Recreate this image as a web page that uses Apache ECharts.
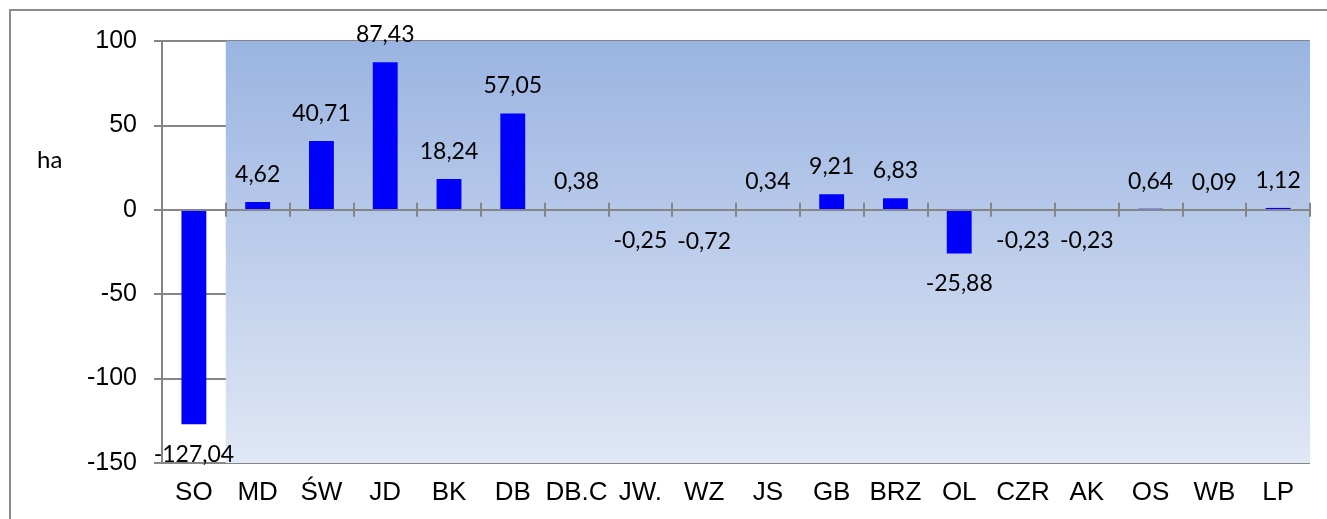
<!DOCTYPE html>
<html>
<head>
<meta charset="utf-8">
<script src="https://cdn.jsdelivr.net/npm/echarts@6/dist/echarts.min.js"></script>
<style>
  html, body { margin: 0; padding: 0; background: #fff; }
  #chart { width: 1327px; height: 519px; }
</style>
</head>
<body>
<div id="chart"></div>
<script>
// dane
const categories = ['SO', 'MD', 'ŚW', 'JD', 'BK', 'DB', 'DB.C', 'JW.', 'WZ', 'JS', 'GB', 'BRZ', 'OL', 'CZR', 'AK', 'OS', 'WB', 'LP']
const values = [-127.04, 4.62, 40.71, 87.43, 18.24, 57.05, 0.38, -0.25, -0.72, 0.34, 9.21, 6.83, -25.88, -0.23, -0.23, 0.64, 0.09, 1.12]
const yTicks = [-150, -100, -50, 0, 50, 100]
const unit = 'ha'

const gray = '#868686'
const labelFont = 'Lato, "Open Sans", sans-serif'
const axisFont = '"Liberation Sans", Arial, sans-serif'

let myChart = echarts.init(document.getElementById('chart'))

// etykiety nad / pod slupkami
const barData = values.map(v => ({
  value: v,
  label: v < 0 ? { position: 'bottom', distance: 19 } : { position: 'top', distance: 16 }
}))

myChart.setOption({
  animation: false,
  title: {
    text: unit,
    left: 32,
    top: 143,
    textStyle: { fontFamily: labelFont, fontSize: 24, fontWeight: 'normal', color: '#000' }
  },
  graphic: [{
    type: 'rect',
    shape: { x: 10, y: 10, width: 1400, height: 600 },
    style: { fill: 'none', stroke: '#8c8c8c', lineWidth: 2 },
    silent: true
  }],
  grid: { left: 162, right: 17, top: 41, bottom: 56 },
  xAxis: [
    {
      // etykiety na dole
      type: 'category',
      data: categories,
      position: 'bottom',
      axisLine: { show: false, onZero: false },
      axisTick: { show: false },
      axisLabel: { color: '#000', fontFamily: axisFont, fontSize: 26, margin: 17, interval: 0 }
    },
    {
      // linia zera, znaczniki w dol
      type: 'category',
      data: categories,
      position: 'bottom',
      z: 5,
      axisLine: { show: true, onZero: true, onZeroAxisIndex: 0, lineStyle: { color: gray, width: 2 } },
      axisTick: { show: true, length: 7, lineStyle: { color: gray, width: 2 } },
      axisLabel: { show: false }
    },
    {
      // znaczniki w gore
      type: 'category',
      data: categories,
      position: 'bottom',
      z: 5,
      axisLine: { show: false, onZero: true, onZeroAxisIndex: 1 },
      axisTick: { show: true, inside: true, length: 7, lineStyle: { color: gray, width: 2 } },
      axisLabel: { show: false }
    },
    {
      // pomocnicza os dla tla
      type: 'value',
      min: 0,
      max: categories.length,
      show: false
    }
  ],
  yAxis: [
    {
      type: 'value',
      min: yTicks[0],
      max: yTicks[yTicks.length - 1],
      interval: 50,
      axisLine: { show: true, lineStyle: { color: gray, width: 2 } },
      axisTick: { show: true, length: 8, lineStyle: { color: gray, width: 2 } },
      splitLine: { show: true, lineStyle: { color: gray, width: 2 } },
      axisLabel: { color: '#000', fontFamily: axisFont, fontSize: 25, margin: 25 }
    },
    {
      type: 'value',
      min: yTicks[0],
      max: yTicks[yTicks.length - 1],
      interval: 50,
      show: false
    }
  ],
  series: [
    {
      name: 'tlo',
      type: 'line',
      xAxisIndex: 3,
      yAxisIndex: 0,
      data: [],
      z: 1,
      silent: true,
      markArea: {
        silent: true,
        itemStyle: {
          color: {
            type: 'linear', x: 0, y: 0, x2: 0, y2: 1,
            colorStops: [
              { offset: 0, color: '#9ab4e1' },
              { offset: 1, color: '#e0e7f5' }
            ]
          }
        },
        data: [[{ xAxis: 1, yAxis: yTicks[0] }, { xAxis: categories.length, yAxis: yTicks[yTicks.length - 1] }]]
      }
    },
    {
      name: 'ha',
      type: 'bar',
      xAxisIndex: 0,
      yAxisIndex: 0,
      z: 3,
      barWidth: '39%',
      itemStyle: { color: '#0000ff' },
      label: {
        show: true,
        color: '#000',
        fontFamily: labelFont,
        fontSize: 23,
        formatter: p => String(p.value).replace('.', ',')
      },
      data: barData
    }
  ]
})
</script>
</body>
</html>
